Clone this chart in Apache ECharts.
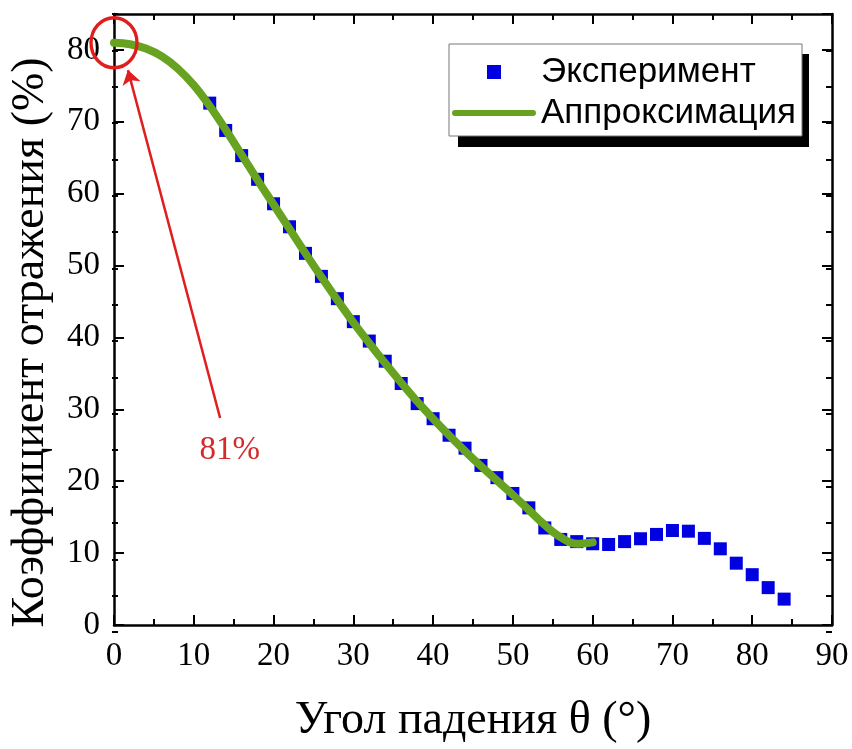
<!DOCTYPE html>
<html lang="ru">
<head>
<meta charset="UTF-8">
<script src="https://cdn.jsdelivr.net/npm/echarts/dist/echarts.min.js"></script>
<title>Коэффициент отражения</title>
<style>
html, body { margin: 0; padding: 0; background: #fff; }
#chart { width: 852px; height: 749px; }
</style>
</head>
<body>
<div id="chart"></div>
<script>
// experiment: angle (deg) / reflection (%)
var expAngle = [12, 14, 16, 18, 20, 22, 24, 26, 28, 30, 32, 34, 36, 38, 40, 42, 44, 46, 48,
                50, 52, 54, 56, 58, 60, 62, 64, 66, 68, 70, 72, 74, 76, 78, 80, 82, 84];
var expValue = [72.6, 68.8, 65.3, 62.0, 58.6, 55.4, 51.7, 48.5, 45.4, 42.2, 39.5, 36.7, 33.6, 30.8, 28.7, 26.4, 24.6, 22.2, 20.5,
                18.3, 16.3, 13.5, 11.9, 11.6, 11.3, 11.2, 11.6, 12.0, 12.6, 13.15, 13.05, 12.05, 10.6, 8.6, 7.0, 5.2, 3.6];

// approximation curve
var fitAngle = [0, 2, 4, 6, 8, 10, 12, 14, 16, 18, 20, 22, 24, 26, 28, 30,
                32, 34, 36, 38, 40, 42, 44, 46, 48, 50, 52, 54, 56, 58, 60];
var fitValue = [81.0, 80.8, 80.2, 79.1, 77.4, 75.1, 72.2, 68.9, 65.4, 61.9, 58.5, 55.1, 51.7, 48.4, 45.2, 42.1,
                39.2, 36.4, 33.7, 31.1, 28.7, 26.4, 24.2, 22.1, 20.1, 18.1, 16.0, 13.9, 12.2, 11.3, 11.5];

var seriesNames = ['Эксперимент', 'Аппроксимация'];
var xRange = [0, 90];
var yRange = [0, 85];

// annotation (data coords)
var peakPoint = [0, 81];
var arrowFrom = [13.3, 28.8];
var arrowTo = [1.75, 77.2];
var peakLabelAt = [14.5, 24.3];
var peakLabel = '81%';

var serif = 'Liberation Serif';
var sans = 'Liberation Sans';
var red = '#e01e1e';
var green = '#67a321';
var blue = '#0000e0';

function pairs(xs, ys) {
    return xs.map(function (x, i) { return [x, ys[i]]; });
}

function frameX(pos, withLabels) {
    return {
        type: 'value', gridIndex: 0, position: pos,
        min: xRange[0], max: xRange[1], interval: 10,
        axisLine: { onZero: false, lineStyle: { color: '#000', width: 2.5 } },
        axisTick: { inside: true, length: 10, lineStyle: { color: '#000', width: 2 } },
        minorTick: { show: true, splitNumber: 2, length: 6, lineStyle: { color: '#000', width: 2 } },
        splitLine: { show: false },
        axisLabel: { show: withLabels, fontFamily: serif, fontSize: 33, color: '#000', margin: 15 }
    };
}

function frameY(pos, withLabels) {
    return {
        type: 'value', gridIndex: 0, position: pos,
        min: yRange[0], max: yRange[1], interval: 10,
        axisLine: { onZero: false, lineStyle: { color: '#000', width: 2.5 } },
        axisTick: { inside: true, length: 10, lineStyle: { color: '#000', width: 2 } },
        splitLine: { show: false },
        axisLabel: { show: withLabels, showMaxLabel: false, fontFamily: serif, fontSize: 33, color: '#000', margin: 14 }
    };
}

// short ticks every 5 on the y sides (own grid so no odd minor tick near 85)
function minorY(pos) {
    return {
        type: 'value', gridIndex: 1, position: pos,
        min: yRange[0], max: yRange[1], interval: 5,
        axisLine: { show: false, onZero: false },
        axisTick: { inside: true, length: 6, lineStyle: { color: '#000', width: 2 } },
        splitLine: { show: false },
        axisLabel: { show: false }
    };
}

var xBottom = frameX('bottom', true);
xBottom.name = 'Угол падения θ (°)';
xBottom.nameLocation = 'middle';
xBottom.nameGap = 73;
xBottom.nameTextStyle = { fontFamily: serif, fontSize: 46, color: '#000' };

var yLeft = frameY('left', true);
yLeft.name = 'Коэффициент отражения (%)';
yLeft.nameLocation = 'middle';
yLeft.nameGap = 60;
yLeft.nameTextStyle = { fontFamily: serif, fontSize: 46, color: '#000', padding: [0, 46, 0, 0] };

var chart = echarts.init(document.getElementById('chart'), null, { renderer: 'canvas' });

var option = {
    backgroundColor: '#fff',
    animation: false,
    grid: [
        { left: 112, right: 20, top: 14, bottom: 117 },
        { left: 112, right: 20, top: 14, bottom: 117 }
    ],
    xAxis: [
        xBottom,
        frameX('top', false),
        { type: 'value', gridIndex: 1, min: xRange[0], max: xRange[1], show: false }
    ],
    yAxis: [
        yLeft,
        frameY('right', false),
        minorY('left'),
        minorY('right')
    ],
    // hard black shadow behind the legend box
    graphic: [{
        type: 'rect', z: 1, silent: true,
        shape: { x: 458, y: 54, width: 351, height: 93 },
        style: { fill: '#000' }
    }],
    legend: {
        orient: 'vertical',
        left: 449, top: 44,
        padding: [8, 6, 3, 3],
        itemGap: 1,
        itemWidth: 84,
        itemHeight: 14,
        backgroundColor: '#fff',
        borderColor: '#777',
        borderWidth: 1,
        textStyle: { fontFamily: sans, fontSize: 35, lineHeight: 40, color: '#000' },
        data: [
            { name: seriesNames[0], icon: 'path://M0,0L10,0L10,10L0,10Z' },
            { name: seriesNames[1], icon: 'path://M3,0L83,0A3,3,0,0,1,83,6L3,6A3,3,0,0,1,3,0Z' }
        ]
    },
    series: [
        {
            name: seriesNames[0],
            type: 'scatter',
            symbol: 'rect',
            symbolSize: 13,
            itemStyle: { color: blue, opacity: 1 },
            data: pairs(expAngle, expValue)
        },
        {
            name: seriesNames[1],
            type: 'line',
            smooth: 0.4,
            symbol: 'none',
            clip: false,
            lineStyle: { color: green, width: 8, cap: 'round' },
            itemStyle: { color: green },
            data: pairs(fitAngle, fitValue),
            markPoint: {
                silent: true,
                data: [
                    {
                        coord: peakPoint, symbol: 'circle', symbolSize: [46, 50],
                        itemStyle: { color: 'rgba(0,0,0,0)', borderColor: red, borderWidth: 3.5 },
                        label: { show: false }
                    },
                    {
                        coord: peakLabelAt, symbol: 'circle', symbolSize: 0,
                        label: { show: true, position: 'inside', formatter: peakLabel, fontFamily: serif, fontSize: 33, color: '#d42a2a' }
                    }
                ]
            },
            markLine: {
                silent: true,
                symbol: ['none', 'arrow'],
                symbolSize: 14,
                label: { show: false },
                lineStyle: { color: red, width: 2.5, type: 'solid' },
                data: [[{ coord: arrowFrom }, { coord: arrowTo }]]
            }
        }
    ]
};

chart.setOption(option);
</script>
</body>
</html>
